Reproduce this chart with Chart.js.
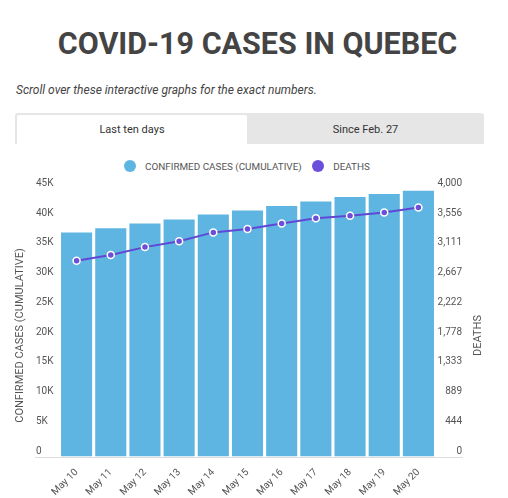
<!DOCTYPE html>
<html>
<head>
<meta charset="utf-8">
<script src="https://cdn.jsdelivr.net/npm/chart.js@4/dist/chart.umd.min.js"></script>
<style>
  html, body { margin: 0; padding: 0; background: #fff; }
  body { width: 508px; height: 498px; position: relative; overflow: hidden; font-family: Roboto, sans-serif; color: #444; }
  h1 { position: absolute; top: 25px; left: 3.5px; width: 508px; margin: 0; text-align: center; font-size: 30.5px; font-weight: 700; color: #444; line-height: 38px; }
  .sub { position: absolute; top: 83px; left: 16px; margin: 0; font-size: 12px; font-style: italic; color: #444; }
  .tabs { position: absolute; top: 113px; left: 15px; width: 469px; height: 31px; background: #e6e6e6; border-radius: 3px 3px 0 0; }
  .tab { position: absolute; top: 2px; height: 29px; line-height: 29px; text-align: center; font-size: 11px; color: #333; }
  .tab.on { left: 2px; width: 230px; background: #fff; border-radius: 2px 2px 0 0; }
  .tab.off { left: 232px; width: 237px; }
  #legend { position: absolute; top: 160px; left: 124px; height: 12px; display: flex; align-items: center; font-size: 9.9px; color: #555; white-space: nowrap; }
  #legend .item { display: flex; align-items: center; margin-right: 10.5px; }
  #legend .dot { width: 12px; height: 12px; border-radius: 50%; margin-right: 9px; }
  #wrap { position: absolute; top: 170px; left: 0; width: 508px; height: 328px; }
</style>
</head>
<body>
<h1>COVID-19 CASES IN QUEBEC</h1>
<p class="sub">Scroll over these interactive graphs for the exact numbers.</p>
<div class="tabs">
  <div class="tab on">Last ten days</div>
  <div class="tab off">Since Feb. 27</div>
</div>
<div id="legend"></div>
<div id="wrap"><canvas id="chart"></canvas></div>
<script>
// values
var days = ['May 10', 'May 11', 'May 12', 'May 13', 'May 14', 'May 15', 'May 16', 'May 17', 'May 18', 'May 19', 'May 20'];
var cases = [37700, 38400, 39200, 39850, 40700, 41400, 42150, 42900, 43650, 44150, 44700];
var deaths = [2928, 3013, 3131, 3220, 3351, 3401, 3485, 3562, 3600, 3650, 3725];

var casesMax = 45000;
var deathsMax = 4000;
var casesTitle = 'CONFIRMED CASES (CUMULATIVE)';
var deathsTitle = 'DEATHS';

// long grey base line under the bars, wider than the plot
var baseLine = {
  id: 'baseLine',
  beforeDatasetsDraw: function (chart) {
    var c = chart.ctx, y = Math.round(chart.chartArea.bottom);
    c.save();
    c.strokeStyle = '#dddddd';
    c.lineWidth = 1;
    c.beginPath();
    c.moveTo(35, y + 0.5);
    c.lineTo(463, y + 0.5);
    c.stroke();
    c.restore();
  }
};

// axis titles, centred on the whole chart height (plot + date labels) like the original
var axisTitles = {
  id: 'axisTitles',
  afterDraw: function (chart) {
    var c = chart.ctx;
    var cy = (chart.chartArea.top + chart.height - 16) / 2;
    c.save();
    c.fillStyle = '#555';
    c.font = '11px Roboto';
    c.textAlign = 'center';
    c.textBaseline = 'middle';
    [[20.5, casesTitle], [478, deathsTitle]].forEach(function (t) {
      c.save();
      c.translate(t[0], cy);
      c.rotate(-Math.PI / 2);
      c.fillText(t[1], 0, 0);
      c.restore();
    });
    c.restore();
  }
};

var tickFont = { family: 'Roboto', size: 10 };

var chart = new Chart(document.getElementById('chart').getContext('2d'), {
  type: 'bar',
  data: {
    labels: days,
    datasets: [
      {
        type: 'bar',
        label: casesTitle,
        data: cases,
        yAxisID: 'y',
        backgroundColor: '#5eb5e2',
        borderWidth: 0,
        barPercentage: 0.91,
        categoryPercentage: 1,
        order: 1
      },
      {
        type: 'line',
        label: deathsTitle,
        data: deaths,
        yAxisID: 'y2',
        borderColor: '#6148d4',
        backgroundColor: '#6b4fdb',
        borderWidth: 2,
        pointRadius: 3.5,
        pointBorderWidth: 1.5,
        pointBackgroundColor: '#6b4fdb',
        pointBorderColor: '#ffffff',
        tension: 0,
        order: 0
      }
    ]
  },
  options: {
    responsive: true,
    maintainAspectRatio: false,
    animation: false,
    layout: { padding: { left: 36, right: 46, top: 19, bottom: 0 } },
    plugins: {
      tooltip: { enabled: false },
      legend: { display: false }
    },
    scales: {
      x: {
        grid: { display: false },
        border: { display: false },
        ticks: { color: '#555', font: tickFont, maxRotation: 45, minRotation: 45, padding: 2 },
        afterFit: function (s) { s.height = 41.5; }
      },
      y: {
        position: 'left',
        min: 0,
        max: casesMax,
        grid: { display: false, drawTicks: false },
        border: { display: false },
        ticks: {
          count: 10,
          color: '#555',
          font: tickFont,
          crossAlign: 'far',
          labelOffset: -5.5,
          callback: function (v) { return v === 0 ? '0' : Math.round(v / 1000) + 'K'; }
        },
        afterFit: function (s) { s.width = 23.5; }
      },
      y2: {
        position: 'right',
        min: 0,
        max: deathsMax,
        grid: { display: false, drawTicks: false },
        border: { display: false },
        ticks: {
          count: 10,
          color: '#555',
          font: tickFont,
          crossAlign: 'far',
          labelOffset: -5.5,
          callback: function (v) { return Math.round(v).toLocaleString('en-US'); }
        },
        afterFit: function (s) { s.width = 26.5; }
      }
    }
  },
  plugins: [baseLine, axisTitles]
});

// html legend built from the datasets
var legend = document.getElementById('legend');
chart.data.datasets.forEach(function (ds) {
  var item = document.createElement('div');
  item.className = 'item';
  var dot = document.createElement('span');
  dot.className = 'dot';
  dot.style.background = ds.backgroundColor;
  var txt = document.createElement('span');
  txt.textContent = ds.label;
  item.appendChild(dot);
  item.appendChild(txt);
  legend.appendChild(item);
});
</script>
</body>
</html>
